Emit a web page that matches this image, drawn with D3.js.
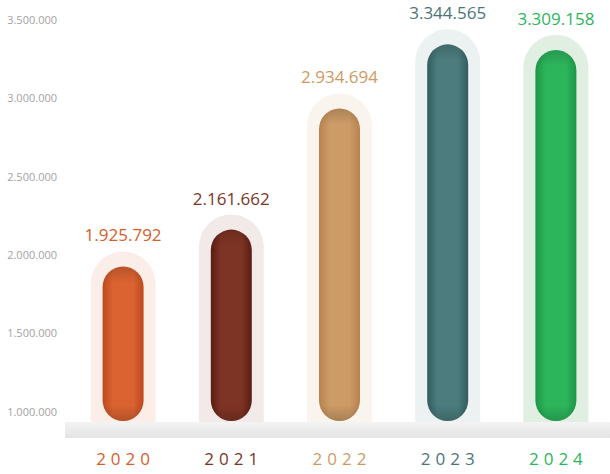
<!DOCTYPE html>
<html>
<head>
<meta charset="utf-8">
<script src="https://cdn.jsdelivr.net/npm/d3@7"></script>
<style>
  body { margin: 0; background: #fff; }
  svg { display: block; font-family: "Open Sans", sans-serif; }
</style>
</head>
<body>
<svg id="chart"></svg>
<script>
// data
const years = ['2020', '2021', '2022', '2023', '2024'];
const values = [1925792, 2161662, 2934694, 3344565, 3309158];
const yTicks = [1000000, 1500000, 2000000, 2500000, 3000000, 3500000];

// palette (mid tone, edge tone, label, halo)
const mids  = ['#da6331', '#7e3424', '#cc9b66', '#4c7c7e', '#2db55c'];
const edges = ['#bf481e', '#5a1d13', '#b8824e', '#335c5f', '#1c9646'];
const labelColors = ['#d75d2b', '#7a3526', '#cf9a62', '#4a7577', '#2cb55a'];
const halos = ['#fbede8', '#f2eae9', '#faf4ef', '#ecf2f1', '#e0efe2'];

const width = 610, height = 474;
const baseY = 422;

const svg = d3.select('#chart')
    .attr('width', width)
    .attr('height', height);

const x = d3.scaleBand().domain(years).range([69, 610]);
const y = d3.scaleLinear().domain([1000000, 3500000]).range([411.5, 20]);

const locale = d3.formatLocale({ decimal: ',', thousands: '.', grouping: [3], currency: ['', ''] });
const fmt = locale.format(',d');

const defs = svg.append('defs');

years.forEach((yr, i) => {
    let g = defs.append('linearGradient').attr('id', 'bar' + i)
        .attr('x1', 0).attr('x2', 1).attr('y1', 0).attr('y2', 0);
    g.append('stop').attr('offset', '0%').attr('stop-color', edges[i]);
    g.append('stop').attr('offset', '25%').attr('stop-color', mids[i]);
    g.append('stop').attr('offset', '75%').attr('stop-color', mids[i]);
    g.append('stop').attr('offset', '100%').attr('stop-color', edges[i]);

    // darker caps, fading over a fixed number of pixels
    let top = y(values[i]), bot = baseY - 1, len = bot - top, f = 16 / len;
    let s = defs.append('linearGradient').attr('id', 'shade' + i)
        .attr('gradientUnits', 'userSpaceOnUse')
        .attr('x1', 0).attr('x2', 0).attr('y1', top).attr('y2', bot);
    s.append('stop').attr('offset', 0).attr('stop-color', '#000').attr('stop-opacity', 0.16);
    s.append('stop').attr('offset', f).attr('stop-color', '#000').attr('stop-opacity', 0);
    s.append('stop').attr('offset', 1 - f).attr('stop-color', '#000').attr('stop-opacity', 0);
    s.append('stop').attr('offset', 1).attr('stop-color', '#000').attr('stop-opacity', 0.18);
});

let band = defs.append('linearGradient').attr('id', 'band')
    .attr('x1', 0).attr('x2', 0).attr('y1', 0).attr('y2', 1);
band.append('stop').attr('offset', '0%').attr('stop-color', '#f3f3f3');
band.append('stop').attr('offset', '100%').attr('stop-color', '#e4e4e4');

// y axis labels
svg.append('g')
    .attr('transform', 'translate(60,0)')
    .call(d3.axisLeft(y).tickValues(yTicks).tickFormat(fmt).tickSize(0).tickPadding(3))
    .call(g => g.select('.domain').remove())
    .selectAll('text')
    .attr('fill', '#a3a3a3')
    .style('font-size', '11px')
    .style('font-family', '"Open Sans", sans-serif');

const innerW = 41, haloW = 65, haloPad = 15;

// halo with rounded top only
let haloPath = (cx, top) => {
    let r = haloW / 2, x0 = cx - r, x1 = cx + r;
    return `M${x0},${baseY} L${x0},${top + r} A${r},${r} 0 0 1 ${x1},${top + r} L${x1},${baseY} Z`;
};

let bars = svg.append('g').selectAll('g')
    .data(years)
    .enter().append('g');

bars.append('path')
    .attr('d', (d, i) => haloPath(x(d) + x.bandwidth() / 2, y(values[i]) - haloPad))
    .attr('fill', (d, i) => halos[i]);

['bar', 'shade'].forEach(layer => {
    bars.append('rect')
        .attr('x', d => x(d) + x.bandwidth() / 2 - innerW / 2)
        .attr('y', (d, i) => y(values[i]))
        .attr('width', innerW)
        .attr('height', (d, i) => baseY - 1 - y(values[i]))
        .attr('rx', innerW / 2)
        .attr('fill', (d, i) => `url(#${layer}${i})`);
});

// value labels
bars.append('text')
    .attr('x', d => x(d) + x.bandwidth() / 2)
    .attr('y', (d, i) => y(values[i]) - 31)
    .attr('dy', '0.35em')
    .attr('text-anchor', 'middle')
    .attr('fill', (d, i) => labelColors[i])
    .style('font-size', '17px')
    .text((d, i) => fmt(values[i]));

// grey base band
svg.append('rect')
    .attr('x', 65).attr('y', baseY)
    .attr('width', width - 65).attr('height', 16)
    .attr('fill', 'url(#band)');

// year labels
svg.append('g').selectAll('text')
    .data(years)
    .enter().append('text')
    .attr('x', d => x(d) + x.bandwidth() / 2 + 2.5)
    .attr('y', 459)
    .attr('dy', '0.35em')
    .attr('text-anchor', 'middle')
    .attr('fill', (d, i) => labelColors[i])
    .style('font-size', '17px')
    .style('letter-spacing', '5px')
    .text(d => d);
</script>
</body>
</html>
